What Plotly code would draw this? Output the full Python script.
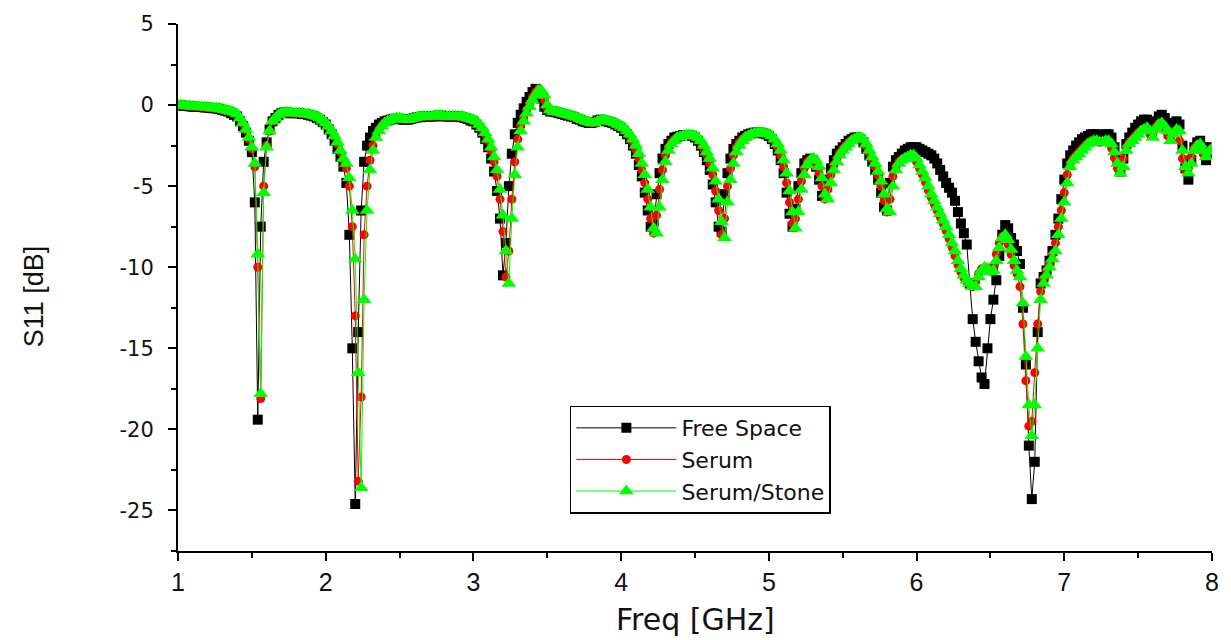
import numpy as np
import plotly.graph_objects as go

# Frequency grid (GHz), 0.02 GHz step from 1 to 8
freq = np.round(1.0 + 0.02 * np.arange(351), 2)

free_space = [
    0.0, -0.02, -0.05, -0.05, -0.08, -0.1, -0.1, -0.12, -0.12, -0.15,   # 1.00
    -0.15, -0.18, -0.2, -0.2, -0.25, -0.3, -0.35, -0.4, -0.5, -0.6,     # 1.20
    -0.7, -1.0, -1.3, -1.7, -2.2, -2.9, -6.0, -19.4, -7.5, -3.5,        # 1.40
    -2.3, -1.5, -1.0, -0.8, -0.6, -0.5, -0.45, -0.45, -0.5, -0.5,       # 1.60
    -0.5, -0.5, -0.55, -0.55, -0.6, -0.65, -0.7, -0.8, -0.9, -1.05,     # 1.80
    -1.2, -1.5, -1.8, -2.2, -2.7, -3.2, -3.8, -4.8, -8.0, -15.0,        # 2.00
    -24.6, -14.0, -6.5, -3.5, -2.5, -2.0, -1.6, -1.4, -1.2, -1.1,       # 2.20
    -1.0, -0.95, -0.9, -0.85, -0.85, -0.85, -0.9, -0.9, -0.9, -0.85,    # 2.40
    -0.8, -0.75, -0.75, -0.7, -0.7, -0.7, -0.7, -0.7, -0.65, -0.65,     # 2.60
    -0.7, -0.7, -0.7, -0.7, -0.7, -0.7, -0.75, -0.8, -0.85, -0.95,      # 2.80
    -1.0, -1.2, -1.4, -1.7, -2.1, -2.6, -3.3, -4.1, -5.3, -7.0,         # 3.00
    -10.5, -8.5, -5.0, -3.0, -1.8, -1.1, -0.6, -0.2, 0.2, 0.5,          # 3.20
    0.8, 1.0, 0.8, 0.4, -0.1, -0.3, -0.4, -0.4, -0.45, -0.5,            # 3.40
    -0.55, -0.6, -0.65, -0.7, -0.75, -0.85, -0.9, -1.0, -1.05, -1.1,    # 3.60
    -1.1, -1.05, -0.95, -0.9, -0.95, -1.0, -1.05, -1.1, -1.2, -1.3,     # 3.80
    -1.4, -1.6, -1.8, -2.1, -2.5, -3.0, -3.7, -4.4, -5.4, -6.5,         # 4.00
    -7.5, -7.2, -5.5, -4.2, -3.3, -2.7, -2.4, -2.2, -2.0, -1.95,        # 4.20
    -1.9, -1.85, -1.85, -1.85, -1.9, -2.0, -2.2, -2.5, -2.9, -3.4,      # 4.40
    -4.0, -4.9, -6.0, -7.5, -7.8, -5.5, -4.2, -3.3, -2.7, -2.4,         # 4.60
    -2.2, -2.0, -1.9, -1.8, -1.75, -1.7, -1.7, -1.7, -1.75, -1.8,       # 4.80
    -1.9, -2.1, -2.4, -2.8, -3.4, -4.2, -5.4, -6.7, -7.5, -6.4,         # 5.00
    -5.0, -4.2, -3.6, -3.4, -3.3, -3.4, -3.8, -4.6, -5.6, -5.6,         # 5.20
    -4.6, -3.9, -3.4, -3.0, -2.8, -2.6, -2.4, -2.2, -2.1, -2.0,         # 5.40
    -2.0, -2.1, -2.3, -2.7, -3.1, -3.5, -4.0, -4.6, -5.4, -6.3,         # 5.60
    -6.5, -4.8, -3.8, -3.4, -3.2, -3.0, -2.8, -2.7, -2.6, -2.6,         # 5.80
    -2.6, -2.7, -2.8, -2.9, -3.0, -3.1, -3.3, -3.6, -4.0, -4.4,         # 6.00
    -4.8, -5.1, -5.4, -5.9, -6.6, -7.3, -7.9, -8.6, -11.0, -13.2,       # 6.20
    -14.6, -15.8, -16.8, -17.2, -15.0, -13.2, -12.0, -10.8, -9.3, -8.0, # 6.40
    -7.4, -7.6, -8.2, -8.6, -9.0, -9.8, -12.5, -16.0, -21.0, -24.3,     # 6.60
    -22.0, -14.0, -11.0, -10.6, -10.2, -9.6, -9.0, -8.0, -7.0, -5.8,    # 6.80
    -4.6, -3.6, -3.1, -2.8, -2.5, -2.3, -2.1, -2.0, -1.9, -1.8,         # 7.00
    -1.8, -1.8, -1.9, -1.9, -1.8, -1.8, -2.0, -2.6, -3.4, -4.1,         # 7.20
    -3.3, -2.4, -2.0, -1.7, -1.4, -1.2, -1.0, -0.9, -0.9, -1.1,         # 7.40
    -1.4, -1.0, -0.7, -0.6, -0.8, -1.1, -1.6, -1.4, -1.0, -1.2,         # 7.60
    -2.5, -3.9, -4.6, -3.4, -2.6, -2.3, -2.2, -2.6, -3.4, -3.0,         # 7.80
    -2.6,                                                               # 8.00
]

serum = [
    0.0, 0.0, -0.03, -0.05, -0.06, -0.08, -0.1, -0.11, -0.12, -0.13,    # 1.00
    -0.15, -0.16, -0.18, -0.2, -0.22, -0.27, -0.32, -0.37, -0.42, -0.5, # 1.20
    -0.6, -0.85, -1.15, -1.55, -2.1, -2.7, -3.8, -10.0, -18.1, -5.0,    # 1.40
    -2.5, -1.6, -1.0, -0.8, -0.6, -0.5, -0.45, -0.45, -0.45, -0.5,      # 1.60
    -0.5, -0.5, -0.52, -0.55, -0.57, -0.62, -0.67, -0.72, -0.82, -0.97, # 1.80
    -1.12, -1.35, -1.65, -1.95, -2.4, -2.9, -3.4, -3.9, -5.0, -7.5,     # 2.00
    -13.0, -23.2, -18.0, -8.0, -5.0, -3.4, -2.5, -1.9, -1.5, -1.25,     # 2.20
    -1.05, -0.95, -0.9, -0.85, -0.8, -0.82, -0.87, -0.9, -0.88, -0.85,  # 2.40
    -0.8, -0.75, -0.72, -0.7, -0.7, -0.7, -0.7, -0.67, -0.65, -0.66,    # 2.60
    -0.7, -0.7, -0.7, -0.7, -0.7, -0.7, -0.72, -0.77, -0.82, -0.88,     # 2.80
    -0.95, -1.05, -1.25, -1.5, -1.8, -2.2, -2.8, -3.5, -4.4, -5.8,      # 3.00
    -7.8, -10.6, -9.0, -5.8, -3.5, -2.1, -1.3, -0.8, -0.3, 0.1,         # 3.20
    0.5, 0.8, 1.0, 0.8, 0.3, -0.2, -0.35, -0.4, -0.42, -0.47,           # 3.40
    -0.52, -0.57, -0.62, -0.67, -0.72, -0.8, -0.87, -0.95, -1.02, -1.07,# 3.60
    -1.1, -1.08, -0.98, -0.92, -0.92, -0.97, -1.02, -1.08, -1.15, -1.25,# 3.80
    -1.35, -1.5, -1.7, -1.95, -2.3, -2.75, -3.3, -4.0, -4.8, -5.8,      # 4.00
    -7.0, -7.9, -6.8, -5.2, -4.0, -3.1, -2.6, -2.3, -2.1, -1.98,        # 4.20
    -1.92, -1.88, -1.85, -1.85, -1.88, -1.95, -2.1, -2.35, -2.7, -3.1,  # 4.40
    -3.6, -4.3, -5.3, -6.5, -8.0, -7.0, -5.0, -3.9, -3.1, -2.6,         # 4.60
    -2.3, -2.1, -1.95, -1.85, -1.78, -1.72, -1.7, -1.7, -1.72, -1.78,   # 4.80
    -1.85, -2.0, -2.25, -2.6, -3.1, -3.8, -4.8, -6.0, -7.3, -7.0,       # 5.00
    -5.8, -4.7, -3.9, -3.5, -3.35, -3.35, -3.6, -4.2, -5.0, -5.8,       # 5.20
    -5.2, -4.3, -3.7, -3.3, -2.95, -2.7, -2.5, -2.3, -2.15, -2.05,      # 5.40
    -2.0, -2.05, -2.2, -2.55, -2.95, -3.35, -3.8, -4.35, -5.0, -5.9,    # 5.60
    -6.6, -5.8, -4.4, -3.8, -3.5, -3.35, -3.25, -3.15, -3.1, -3.15,     # 5.80
    -3.5, -3.9, -4.3, -4.75, -5.25, -5.7, -6.1, -6.5, -6.9, -7.3,       # 6.00
    -7.75, -8.25, -8.75, -9.3, -9.85, -10.3, -10.65, -10.9, -11.1, -11.2,  # 6.20
    -10.9, -10.4, -10.1, -10.05, -10.2, -10.25, -9.9, -9.2, -8.5, -8.1, # 6.40
    -8.1, -8.6, -9.2, -9.9, -10.4, -11.2, -13.5, -17.0, -19.8, -19.5,   # 6.60
    -16.5, -13.5, -11.5, -10.7, -10.2, -9.8, -9.2, -8.5, -7.5, -6.5,    # 6.80
    -5.4, -4.3, -3.6, -3.3, -3.1, -2.9, -2.7, -2.5, -2.35, -2.25,       # 7.00
    -2.2, -2.25, -2.3, -2.25, -2.2, -2.3, -2.65, -3.25, -3.9, -4.0,     # 7.20
    -3.3, -2.6, -2.3, -2.1, -1.9, -1.7, -1.55, -1.45, -1.5, -1.8,       # 7.40
    -1.75, -1.35, -1.15, -1.2, -1.45, -1.9, -2.0, -1.65, -1.55, -2.2,   # 7.60
    -3.3, -4.0, -3.9, -3.2, -2.65, -2.45, -2.6, -3.0, -3.05, -2.8,      # 7.80
    -2.65,                                                              # 8.00
]

serum_stone = [
    0.0, 0.0, -0.02, -0.05, -0.05, -0.08, -0.1, -0.1, -0.12, -0.12,     # 1.00
    -0.15, -0.15, -0.18, -0.2, -0.2, -0.25, -0.3, -0.35, -0.4, -0.45,   # 1.20
    -0.55, -0.8, -1.1, -1.5, -2.0, -2.6, -3.6, -9.2, -17.8, -5.4,       # 1.40
    -2.6, -1.6, -1.0, -0.8, -0.6, -0.5, -0.45, -0.45, -0.45, -0.5,      # 1.60
    -0.5, -0.5, -0.5, -0.55, -0.55, -0.6, -0.65, -0.7, -0.8, -0.95,     # 1.80
    -1.1, -1.3, -1.6, -1.9, -2.3, -2.8, -3.3, -3.6, -4.5, -6.5,         # 2.00
    -9.5, -16.5, -23.6, -12.0, -6.5, -4.0, -2.8, -2.0, -1.6, -1.3,      # 2.20
    -1.1, -1.0, -0.9, -0.85, -0.8, -0.8, -0.85, -0.9, -0.9, -0.85,      # 2.40
    -0.8, -0.75, -0.7, -0.7, -0.7, -0.7, -0.7, -0.65, -0.65, -0.65,     # 2.60
    -0.7, -0.7, -0.7, -0.7, -0.7, -0.7, -0.7, -0.75, -0.8, -0.85,       # 2.80
    -0.9, -1.0, -1.2, -1.4, -1.7, -2.1, -2.6, -3.2, -4.0, -5.2,         # 3.00
    -6.8, -9.0, -11.0, -7.0, -4.3, -2.6, -1.6, -1.0, -0.5, -0.1,        # 3.20
    0.3, 0.6, 0.9, 0.9, 0.6, 0.0, -0.3, -0.4, -0.4, -0.45,              # 3.40
    -0.5, -0.55, -0.6, -0.65, -0.7, -0.75, -0.85, -0.9, -1.0, -1.05,    # 3.60
    -1.1, -1.1, -1.0, -0.95, -0.9, -0.95, -1.0, -1.05, -1.1, -1.2,      # 3.80
    -1.3, -1.4, -1.6, -1.8, -2.1, -2.5, -3.0, -3.6, -4.3, -5.2,         # 4.00
    -6.3, -7.6, -7.9, -6.3, -4.6, -3.5, -2.8, -2.4, -2.2, -2.0,         # 4.20
    -1.95, -1.9, -1.85, -1.85, -1.85, -1.9, -2.0, -2.2, -2.5, -2.9,     # 4.40
    -3.3, -3.9, -4.7, -5.8, -7.2, -8.2, -6.0, -4.6, -3.6, -2.9,         # 4.60
    -2.5, -2.2, -2.0, -1.9, -1.8, -1.75, -1.7, -1.7, -1.7, -1.75,       # 4.80
    -1.8, -1.9, -2.1, -2.4, -2.8, -3.4, -4.2, -5.3, -6.6, -7.6,         # 5.00
    -6.6, -5.2, -4.3, -3.7, -3.4, -3.3, -3.4, -3.8, -4.5, -5.5,         # 5.20
    -5.8, -4.8, -4.0, -3.5, -3.1, -2.8, -2.6, -2.4, -2.2, -2.1,         # 5.40
    -2.0, -2.0, -2.1, -2.4, -2.8, -3.2, -3.6, -4.1, -4.7, -5.5,         # 5.60
    -6.4, -6.6, -5.0, -4.0, -3.6, -3.4, -3.3, -3.2, -3.1, -3.1,         # 5.80
    -3.3, -3.7, -4.1, -4.5, -5.0, -5.5, -5.9, -6.3, -6.7, -7.1,         # 6.00
    -7.5, -8.0, -8.5, -9.0, -9.6, -10.1, -10.5, -10.8, -11.0, -11.2,    # 6.20
    -11.2, -10.6, -10.2, -10.0, -10.1, -10.3, -10.2, -9.6, -8.8, -8.2,  # 6.40
    -8.0, -8.3, -8.9, -9.6, -10.2, -10.6, -12.2, -15.5, -18.5, -20.4,   # 6.60
    -18.5, -15.0, -12.0, -11.0, -10.5, -10.0, -9.5, -9.0, -8.0, -7.0,   # 6.80
    -6.0, -4.8, -3.8, -3.4, -3.2, -3.0, -2.8, -2.6, -2.4, -2.3,         # 7.00
    -2.2, -2.2, -2.3, -2.3, -2.2, -2.2, -2.4, -2.9, -3.6, -4.2,         # 7.20
    -3.8, -2.8, -2.4, -2.2, -2.0, -1.8, -1.6, -1.5, -1.4, -1.6,         # 7.40
    -2.0, -1.5, -1.2, -1.1, -1.3, -1.6, -2.2, -1.8, -1.5, -1.6,         # 7.60
    -2.8, -3.8, -4.2, -3.6, -2.8, -2.5, -2.4, -2.8, -3.2, -2.9,         # 7.80
    -2.7,                                                               # 8.00
]

x_ticks = [1, 2, 3, 4, 5, 6, 7, 8]
y_ticks = [5, 0, -5, -10, -15, -20, -25]

SANS = "Liberation Sans, Arial, sans-serif"
WIDE = "DejaVu Sans, Verdana, sans-serif"
NARROW = "Liberation Sans Narrow, Arial Narrow, Liberation Sans, sans-serif"
TXT = "#111111"

series = [
    ("Free Space", free_space, "#000000", "square", 10),
    ("Serum", serum, "#ff0000", "circle", 9),
    ("Serum/Stone", serum_stone, "#00ff00", "triangle-up", 13),
]

fig = go.Figure()
for name, vals, col, sym, size in series:
    fig.add_trace(go.Scatter(
        x=freq, y=vals, name=name, mode="lines+markers",
        line=dict(color=col, width=1),
        marker=dict(symbol=sym, size=size, color=col, line=dict(width=0)),
    ))

axis_common = dict(
    showline=True, linecolor="black", linewidth=2,
    ticks="outside", ticklen=8, tickwidth=2, tickcolor="black",
    showgrid=False, zeroline=False, mirror=False,
)

fig.update_xaxes(
    range=[1, 8], tickvals=x_ticks, ticktext=[str(v) for v in x_ticks],
    tickfont=dict(family=NARROW, size=25, color=TXT),
    minor=dict(dtick=0.5, ticks="outside", ticklen=5, tickwidth=2, tickcolor="black"),
    **axis_common,
)
fig.update_yaxes(
    range=[-27.5, 5], tickvals=y_ticks, ticktext=[str(v) for v in y_ticks],
    tickfont=dict(family=WIDE, size=21, color=TXT),
    ticklabelstandoff=10,
    minor=dict(dtick=2.5, tick0=0, ticks="outside", ticklen=5, tickwidth=2, tickcolor="black"),
    **axis_common,
)

fig.update_layout(
    width=1231, height=640,
    margin=dict(l=178, r=13, t=18, b=89),
    paper_bgcolor="white", plot_bgcolor="white",
    showlegend=True,
    legend=dict(
        x=0.379, y=0.276, xanchor="left", yanchor="top",
        bgcolor="white", bordercolor="black", borderwidth=1.5,
        font=dict(family=WIDE, size=22, color=TXT),
        itemwidth=100, tracegroupgap=0,
    ),
    annotations=[
        dict(text="Freq [GHz]", xref="paper", yref="paper", x=0.5, y=-0.13,
             xanchor="center", yanchor="middle", showarrow=False,
             font=dict(family=WIDE, size=30, color=TXT)),
        dict(text="S11 [dB]", xref="paper", yref="paper", x=-0.139, y=0.484,
             xanchor="center", yanchor="middle", showarrow=False, textangle=-90,
             font=dict(family=SANS, size=27, color=TXT)),
    ],
)

fig.write_html("out.html")
